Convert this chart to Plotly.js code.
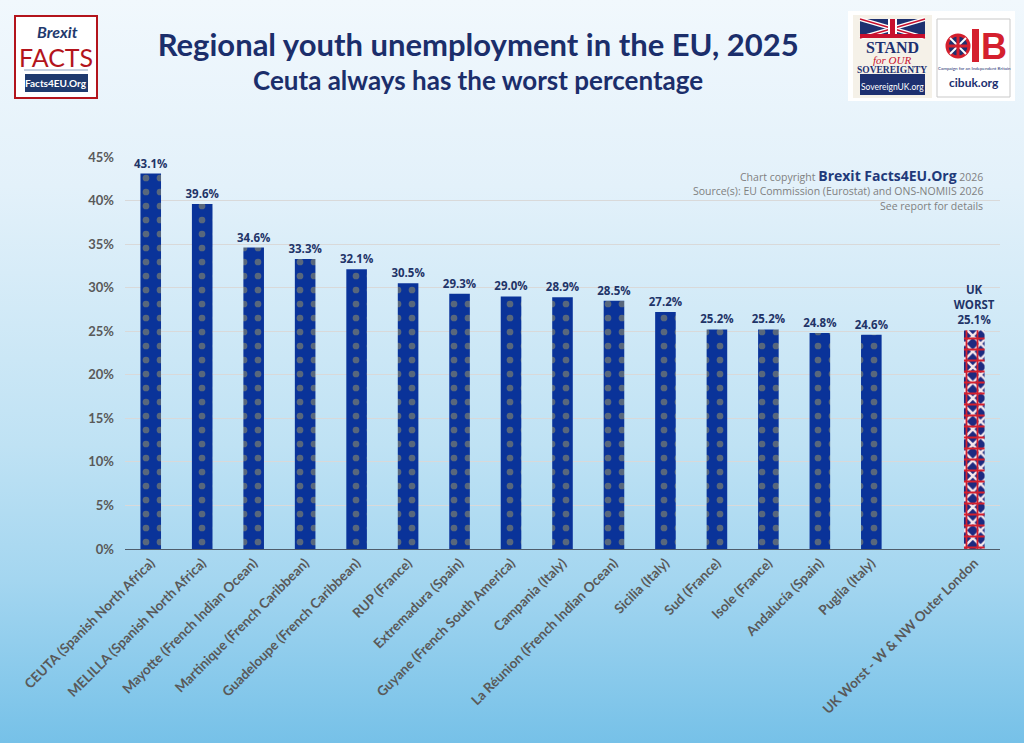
<!DOCTYPE html>
<html>
<head>
<meta charset="utf-8">
<script src="https://cdn.plot.ly/plotly-3.0.1.min.js"></script>
<style>
  html, body { margin: 0; padding: 0; }
  body { width: 1024px; height: 743px; overflow: hidden;
         background: linear-gradient(to bottom, #f1f8fd 0%, #e3f1fa 25%, #bfe2f4 60%, #a4d6f0 78%, #76c1e8 100%); }
  #chart { width: 1024px; height: 743px; }
</style>
</head>
<body>
<div id="chart"></div>
<script>
// ---- data ----
const euRegions = [
  'CEUTA (Spanish North Africa)',
  'MELILLA (Spanish North Africa)',
  'Mayotte (French Indian Ocean)',
  'Martinique (French Caribbean)',
  'Guadeloupe (French Caribbean)',
  'RUP (France)',
  'Extremadura (Spain)',
  'Guyane (French South America)',
  'Campania (Italy)',
  'La Réunion (French Indian Ocean)',
  'Sicilia (Italy)',
  'Sud (France)',
  'Isole (France)',
  'Andalucía (Spain)',
  'Puglia (Italy)'
];
const euValues = [43.1, 39.6, 34.6, 33.3, 32.1, 30.5, 29.3, 29.0, 28.9, 28.5, 27.2, 25.2, 25.2, 24.8, 24.6];
const gapCategory = [' '];
const ukRegion = ['UK Worst - W & NW Outer London'];
const ukValues = [25.1];
const ukLabelPrefix = 'UK<br>WORST<br>';
const yTickValues = [0, 5, 10, 15, 20, 25, 30, 35, 40, 45];
const yTickLabels = ['0%', '5%', '10%', '15%', '20%', '25%', '30%', '35%', '40%', '45%'];

// ---- geometry helpers (plot area in pixels) ----
const PL = 125, PR = 1000, PT = 157, PB = 549;
const px = v => (v - PL) / (PR - PL);
const py = v => (PB - v) / (PB - PT);

const navy = '#1b2e6b';
const labelFont = {family: 'Open Sans, sans-serif', size: 11.5, color: '#1f3468', weight: 'bold'};

const traces = [
  {
    type: 'bar', x: euRegions, y: euValues,
    text: euValues.map(v => v.toFixed(1) + '%'),
    textposition: 'outside', cliponaxis: false, constraintext: 'none',
    textfont: labelFont,
    marker: {color: '#0a3399', line: {width: 0},
             pattern: {shape: '.', fgcolor: 'rgba(150,145,100,0.55)', bgcolor: '#0a3399', size: 14, solidity: 0.18}},
    hoverinfo: 'x+y', showlegend: false
  },
  {
    type: 'bar', x: gapCategory, y: [null], hoverinfo: 'skip', showlegend: false,
    marker: {color: 'rgba(0,0,0,0)'}
  },
  {
    type: 'bar', x: ukRegion, y: ukValues,
    text: ukValues.map(v => ukLabelPrefix + v.toFixed(1) + '%'),
    textposition: 'outside', cliponaxis: false, constraintext: 'none',
    textfont: labelFont,
    marker: {color: '#1d2a80', line: {width: 0},
             pattern: {shape: 'x', fgcolor: '#f6e8ec', bgcolor: '#1d2a80', size: 11, solidity: 0.4}},
    hoverinfo: 'x+y', showlegend: false
  },
  {
    type: 'bar', x: ukRegion, y: ukValues,
    marker: {color: 'rgba(0,0,0,0)', line: {width: 0},
             pattern: {shape: '+', fgcolor: '#d4202e', bgcolor: 'rgba(0,0,0,0)', size: 11, solidity: 0.3}},
    hoverinfo: 'skip', showlegend: false
  }
];

const categoryOrder = euRegions.concat(gapCategory, ukRegion);

const shapes = [
  // left logo
  {type: 'rect', xref: 'paper', yref: 'paper', x0: px(15), x1: px(97), y0: py(98), y1: py(16),
   fillcolor: '#ffffff', line: {color: '#b3141c', width: 2}},
  {type: 'line', xref: 'paper', yref: 'paper', x0: px(24), x1: px(88), y0: py(70), y1: py(70),
   line: {color: '#8aa0c0', width: 1}},
  {type: 'rect', xref: 'paper', yref: 'paper', x0: px(25), x1: px(88), y0: py(92), y1: py(74),
   fillcolor: '#1f3a6e', line: {width: 0}},
  // right logos background
  {type: 'rect', xref: 'paper', yref: 'paper', x0: px(848), x1: px(1015), y0: py(101), y1: py(11),
   fillcolor: '#ffffff', line: {width: 0}},
  {type: 'rect', xref: 'paper', yref: 'paper', x0: px(853), x1: px(932), y0: py(98), y1: py(15),
   fillcolor: '#f5f1e8', line: {width: 0}},
  // flag
  {type: 'rect', xref: 'paper', yref: 'paper', x0: px(860), x1: px(925), y0: py(38), y1: py(19),
   fillcolor: '#1d3070', line: {width: 0}},
  {type: 'line', xref: 'paper', yref: 'paper', x0: px(860), x1: px(925), y0: py(19), y1: py(38),
   line: {color: '#ffffff', width: 4}},
  {type: 'line', xref: 'paper', yref: 'paper', x0: px(860), x1: px(925), y0: py(38), y1: py(19),
   line: {color: '#ffffff', width: 4}},
  {type: 'line', xref: 'paper', yref: 'paper', x0: px(860), x1: px(925), y0: py(19), y1: py(38),
   line: {color: '#c8102e', width: 1.5}},
  {type: 'line', xref: 'paper', yref: 'paper', x0: px(860), x1: px(925), y0: py(38), y1: py(19),
   line: {color: '#c8102e', width: 1.5}},
  {type: 'rect', xref: 'paper', yref: 'paper', x0: px(888), x1: px(897), y0: py(38), y1: py(19),
   fillcolor: '#ffffff', line: {width: 0}},
  {type: 'rect', xref: 'paper', yref: 'paper', x0: px(890), x1: px(895), y0: py(38), y1: py(19),
   fillcolor: '#c8102e', line: {width: 0}},
  {type: 'rect', xref: 'paper', yref: 'paper', x0: px(860), x1: px(925), y0: py(38), y1: py(34),
   fillcolor: '#c8102e', line: {width: 0}},
  {type: 'rect', xref: 'paper', yref: 'paper', x0: px(860), x1: px(925), y0: py(95), y1: py(74),
   fillcolor: '#1d3070', line: {width: 0}},
  // CIB logo
  {type: 'rect', xref: 'paper', yref: 'paper', x0: px(937), x1: px(1010), y0: py(97), y1: py(19),
   fillcolor: '#ffffff', line: {color: '#c9c9c9', width: 1}},
  {type: 'circle', xref: 'paper', yref: 'paper', x0: px(947), x1: px(969), y0: py(57), y1: py(35),
   fillcolor: '#1d3070', line: {color: '#d4202e', width: 3}},
  {type: 'line', xref: 'paper', yref: 'paper', x0: px(950), x1: px(966), y0: py(38), y1: py(54),
   line: {color: '#ffffff', width: 2}},
  {type: 'line', xref: 'paper', yref: 'paper', x0: px(950), x1: px(966), y0: py(54), y1: py(38),
   line: {color: '#ffffff', width: 2}},
  {type: 'line', xref: 'paper', yref: 'paper', x0: px(958), x1: px(958), y0: py(36), y1: py(56),
   line: {color: '#d4202e', width: 3}},
  {type: 'line', xref: 'paper', yref: 'paper', x0: px(948), x1: px(968), y0: py(46), y1: py(46),
   line: {color: '#d4202e', width: 3}},
  {type: 'rect', xref: 'paper', yref: 'paper', x0: px(972), x1: px(979), y0: py(62), y1: py(29),
   fillcolor: '#d4202e', line: {width: 0}}
];

function ann(x, y, text, size, color, opts) {
  return Object.assign({xref: 'paper', yref: 'paper', x: px(x), y: py(y), text: text,
    showarrow: false, xanchor: 'center', yanchor: 'middle',
    font: {family: 'Lato, sans-serif', size: size, color: color}}, opts || {});
}

const greyFont = {family: 'Open Sans, sans-serif', size: 10.5, color: '#7f7f7f'};

const annotations = [
  // subtitle
  ann(478, 80, '<b>Ceuta always has the worst percentage</b>', 26, navy),
  // copyright block
  ann(985, 175, 'Chart copyright <b><span style="font-size:14px;color:#1f3a7a">Brexit Facts4EU.Org</span></b> 2026', 10.5, '#7f7f7f',
      {xanchor: 'right', font: greyFont}),
  ann(985, 191, 'Source(s): EU Commission (Eurostat) and ONS-NOMIIS 2026', 10.5, '#7f7f7f',
      {xanchor: 'right', font: greyFont}),
  ann(985, 206, 'See report for details', 10.5, '#7f7f7f',
      {xanchor: 'right', font: greyFont}),
  // left logo text
  ann(57, 31, '<b><i>Brexit</i></b>', 16, '#1f3a6e'),
  ann(56, 57, 'FACTS', 25, '#b3141c', {font: {family: 'Liberation Sans Narrow, Lato, sans-serif', size: 25, color: '#b3141c'}}),
  ann(56, 83, '<b>Facts4EU.Org</b>', 10, '#ffffff'),
  // STAND logo text
  ann(892, 48, '<b>STAND</b>', 16, '#1d3070', {font: {family: 'Liberation Serif, serif', size: 16, color: '#1d3070'}}),
  ann(892, 60, '<i>for OUR</i>', 11, '#c8102e', {font: {family: 'Liberation Serif, serif', size: 11, color: '#c8102e'}}),
  ann(892, 70, '<b>SOVEREIGNTY</b>', 9.5, '#1d3070', {font: {family: 'Liberation Serif, serif', size: 9.5, color: '#1d3070'}}),
  ann(892, 87, 'SovereignUK.org', 8.5, '#ffffff'),
  // CIB logo text
  ann(994, 46, '<b>B</b>', 36, '#d4202e', {font: {family: 'Liberation Sans, sans-serif', size: 36, color: '#d4202e'}}),
  ann(974, 69, 'Campaign for an Independent Britain', 4.5, '#1d3070'),
  ann(974, 82, '<b>cibuk.org</b>', 12, '#1d3070')
];

const layout = {
  width: 1024, height: 743,
  paper_bgcolor: 'rgba(0,0,0,0)', plot_bgcolor: 'rgba(0,0,0,0)',
  margin: {l: PL, r: 1024 - PR, t: PT, b: 743 - PB, pad: 0},
  title: {
    text: '<b>Regional youth unemployment in the EU, 2025</b>',
    font: {family: 'Lato, sans-serif', size: 31, color: navy},
    xref: 'container', yref: 'container', x: 0.467, xanchor: 'center',
    y: 1 - 45 / 743, yanchor: 'middle'
  },
  barmode: 'overlay',
  bargap: 0.6,
  xaxis: {
    type: 'category', categoryorder: 'array', categoryarray: categoryOrder,
    tickangle: -45, showgrid: false, showline: true, linecolor: '#4e5d6c', linewidth: 1,
    ticks: '', tickfont: {family: 'Lato, sans-serif', size: 13.5, color: '#595959', weight: 'bold'},
    fixedrange: true
  },
  yaxis: {
    range: [0, 45], tickmode: 'array', tickvals: yTickValues, ticktext: yTickLabels,
    showgrid: true, gridcolor: '#d9d9d9', gridwidth: 1, zeroline: false,
    ticks: '', ticklabelstandoff: 10,
    tickfont: {family: 'Lato, sans-serif', size: 13, color: '#595959', weight: 'bold'},
    fixedrange: true
  },
  shapes: shapes,
  annotations: annotations
};

Plotly.newPlot('chart', traces, layout, {displayModeBar: false, staticPlot: true});
</script>
</body>
</html>
